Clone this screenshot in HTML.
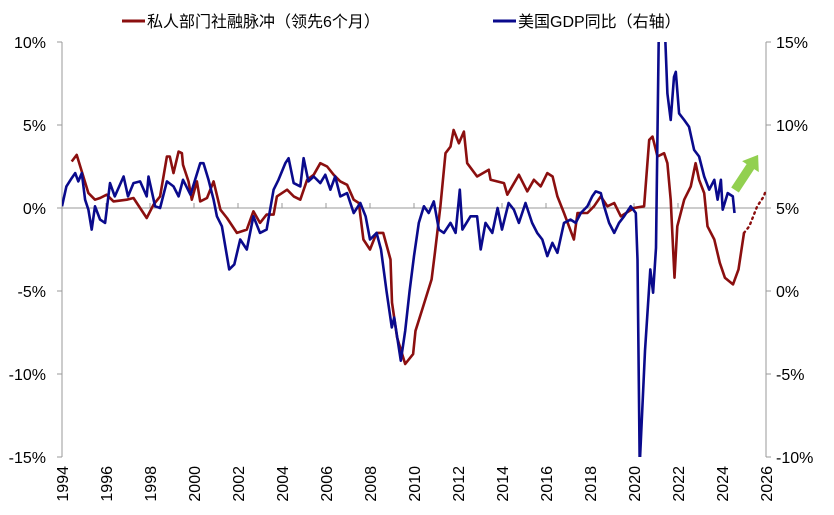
<!DOCTYPE html>
<html><head><meta charset="utf-8"><style>
body{margin:0;background:#fff;}
svg{display:block;font-family:"Liberation Sans","Noto Sans CJK SC",sans-serif;}
</style></head><body>
<svg id="c" width="834" height="515">
<defs><clipPath id="clip"><rect x="62" y="42" width="704" height="415"/></clipPath></defs>
<g id="legend">
<line x1="122" y1="21" x2="145" y2="21" stroke="#8B0F0F" stroke-width="3"/>
<text x="147" y="27" font-size="16" fill="#000">私人部门社融脉冲（领先6个月）</text>
<line x1="493" y1="21" x2="516" y2="21" stroke="#0A0A8C" stroke-width="3"/>
<text x="518" y="27" font-size="16" fill="#000">美国GDP同比（右轴）</text>
</g>
</svg>
<script>
const leftTicks=[10,5,0,-5,-10,-15];
const rightTicks=[15,10,5,0,-5,-10];
const yearTicks=[1994,1996,1998,2000,2002,2004,2006,2008,2010,2012,2014,2016,2018,2020,2022,2024,2026];
const redYears=[1994.44,1994.67,1994.9,1995.2,1995.5,1995.73,1996.03,1996.34,1996.94,1997.25,1997.55,1997.85,1998.16,1998.46,1998.77,1998.9,1999.07,1999.3,1999.45,1999.5,1999.75,1999.9,2000.13,2000.28,2000.59,2000.89,2001.2,2001.5,2001.95,2002.4,2002.7,2003.0,2003.3,2003.62,2003.77,2004.23,2004.53,2004.83,2005.14,2005.44,2005.74,2006.05,2006.35,2006.65,2006.96,2007.26,2007.49,2007.7,2008.0,2008.3,2008.6,2008.93,2009.0,2009.23,2009.6,2009.96,2010.07,2010.4,2010.8,2010.95,2011.2,2011.43,2011.66,2011.8,2012.04,2012.27,2012.42,2012.87,2013.4,2013.48,2014.09,2014.24,2014.77,2015.15,2015.45,2015.76,2016.06,2016.3,2016.52,2016.82,2017.27,2017.43,2017.88,2018.18,2018.49,2018.79,2019.1,2019.4,2020.0,2020.46,2020.69,2020.84,2021.07,2021.37,2021.52,2021.67,2021.84,2021.97,2022.28,2022.58,2022.8,2022.96,2023.19,2023.34,2023.65,2023.9,2024.13,2024.5,2024.75,2025.0];
const redValues=[2.8,3.2,2.2,0.9,0.5,0.6,0.8,0.4,0.5,0.6,0,-0.6,0.2,0.7,3.1,3.1,2.1,3.4,3.3,2.6,1.6,0.5,1.6,0.4,0.6,1.6,-0.1,-0.6,-1.5,-1.3,-0.2,-0.9,-0.4,-0.4,0.7,1.1,0.7,0.5,1.7,2.0,2.7,2.5,2.0,1.6,1.4,0.5,0.3,-1.9,-2.5,-1.5,-1.5,-3.1,-5.7,-7.8,-9.4,-8.8,-7.4,-6.0,-4.3,-2.7,0.1,3.3,3.7,4.7,3.9,4.6,2.7,1.9,2.3,1.7,1.5,0.8,2.0,1.0,1.7,1.3,2.1,1.9,0.7,-0.3,-1.9,-0.3,-0.3,0.1,0.7,0.1,0.3,-0.5,0,0.1,4.1,4.3,3.1,3.3,2.7,0.5,-4.2,-1.1,0.5,1.3,2.7,1.7,0.9,-1.1,-1.9,-3.3,-4.2,-4.6,-3.7,-1.5];
const projYears=[2025.0,2025.24,2025.6,2025.9,2026.0];
const projValues=[-1.5,-1.1,0.1,0.7,1.1];
const blueYears=[1994.0,1994.2,1994.44,1994.6,1994.74,1994.9,1995.05,1995.2,1995.35,1995.5,1995.73,1995.96,1996.18,1996.4,1996.8,1997.0,1997.25,1997.55,1997.85,1997.93,1998.23,1998.46,1998.77,1999.07,1999.3,1999.5,1999.84,2000.05,2000.28,2000.43,2000.66,2000.89,2001.04,2001.27,2001.6,2001.83,2002.1,2002.4,2002.7,2003.0,2003.3,2003.62,2003.84,2004.15,2004.3,2004.53,2004.83,2004.98,2005.2,2005.44,2005.74,2005.97,2006.2,2006.42,2006.65,2006.96,2007.26,2007.56,2007.8,2008.0,2008.3,2008.5,2008.75,2008.99,2009.1,2009.4,2009.6,2009.8,2010.0,2010.22,2010.45,2010.67,2010.9,2011.13,2011.36,2011.66,2011.89,2012.08,2012.2,2012.57,2012.87,2013.03,2013.25,2013.56,2013.8,2014.0,2014.3,2014.54,2014.77,2015.07,2015.37,2015.6,2015.83,2016.06,2016.29,2016.52,2016.82,2017.12,2017.35,2017.58,2017.88,2018.1,2018.26,2018.49,2018.64,2018.87,2019.1,2019.32,2019.55,2019.85,2020.08,2020.16,2020.26,2020.5,2020.74,2020.87,2021.0,2021.14,2021.37,2021.52,2021.67,2021.82,2021.9,2022.05,2022.28,2022.5,2022.73,2022.96,2023.19,2023.42,2023.65,2023.8,2023.95,2024.03,2024.26,2024.49,2024.57];
const blueValues=[5.1,6.3,6.8,7.1,6.6,7.1,5.5,4.9,3.7,5.1,4.3,4.1,6.5,5.7,6.9,5.7,6.5,6.6,5.7,6.9,5.1,5.0,6.6,6.3,5.7,6.7,5.8,6.7,7.7,7.7,6.7,5.5,4.5,3.9,1.3,1.6,3.1,2.5,4.5,3.5,3.7,6.1,6.7,7.7,8.0,6.5,6.3,8.0,6.6,6.9,6.5,7.0,6.1,6.9,5.7,5.9,4.7,5.3,4.5,3.1,3.5,2.5,0.0,-2.2,-1.6,-4.2,-2.4,0.0,2.1,4.1,5.1,4.7,5.4,3.7,3.5,4.1,3.5,6.1,3.7,4.5,4.5,2.5,4.1,3.5,5.0,3.7,5.3,4.9,4.1,5.3,4.1,3.5,3.1,2.1,2.9,2.3,4.1,4.3,4.1,4.7,5.1,5.7,6.0,5.9,5.1,4.1,3.5,4.1,4.5,5.1,4.7,1.9,-10.5,-3.6,1.3,-0.1,2.6,17,17,11.9,10.3,12.9,13.2,10.7,10.3,9.9,8.5,8.1,6.9,6.1,6.7,5.5,6.7,4.9,5.9,5.7,4.7];

const NS='http://www.w3.org/2000/svg';
const svg=document.getElementById('c');
const X0=62,X1=766,YT=42,YB=457;
const xs=y=>X0+(y-1994)/(2026-1994)*(X1-X0);
const yl=v=>YT+(10-v)/25*(YB-YT);
const yr=v=>YT+(15-v)/25*(YB-YT);
function mk(tag,attrs,parent){const e=document.createElementNS(NS,tag);for(const k in attrs)e.setAttribute(k,attrs[k]);(parent||svg).appendChild(e);return e;}
const ax=mk('g',{});


let e=mk('line',{x1:X0,y1:YT,x2:X0,y2:YB,stroke:'#999','stroke-width':1},ax);


e=mk('line',{x1:X1,y1:YT,x2:X1,y2:YB,stroke:'#999','stroke-width':1},ax);


e=mk('line',{x1:X0,y1:yl(0),x2:X1,y2:yl(0),stroke:'#999','stroke-width':1},ax);


leftTicks.forEach(v=>{const y=yl(v);
 mk('line',{x1:X0-5,y1:y,x2:X0,y2:y,stroke:'#999'},ax);
 const t=mk('text',{x:X0-16,y:y+6,'font-size':16,'text-anchor':'end'},ax);t.textContent=v+'%';
 
 });
rightTicks.forEach(v=>{const y=yr(v);
 mk('line',{x1:X1,y1:y,x2:X1+5,y2:y,stroke:'#999'},ax);
 const t=mk('text',{x:X1+10,y:y+6,'font-size':16,'text-anchor':'start'},ax);t.textContent=v+'%';
 
 });
yearTicks.forEach(yr_=>{const x=xs(yr_);
 mk('line',{x1:x,y1:yl(0)-5,x2:x,y2:yl(0),stroke:'#999'},ax);
 const t=mk('text',{x:0,y:0,'font-size':16,'text-anchor':'end',transform:`translate(${x+6},466) rotate(-90)`},ax);t.textContent=yr_;
 
 });
const plot=mk('g',{'clip-path':'url(#clip)'});


function pts(xa,va,f){return xa.map((x,i)=>xs(x).toFixed(1)+','+f(va[i]).toFixed(1)).join(' ');}
e=mk('polyline',{points:pts(redYears,redValues,yl),fill:'none',stroke:'#8B0F0F','stroke-width':2.6,'stroke-linejoin':'round'},plot);


e=mk('polyline',{points:pts(projYears,projValues,yl),fill:'none',stroke:'#8B0F0F','stroke-width':2.4,'stroke-dasharray':'1.5 4','stroke-linecap':'round'},plot);


e=mk('polyline',{points:pts(blueYears,blueValues,yr),fill:'none',stroke:'#0A0A8C','stroke-width':2.6,'stroke-linejoin':'round'},plot);


e=mk('polygon',{points:'738.8,192.5 754.2,169.1 758.8,172.1 758.1,154.9 742.1,161.1 746.6,164.1 731.2,187.5',fill:'#92D050'});


</script>
</body></html>
